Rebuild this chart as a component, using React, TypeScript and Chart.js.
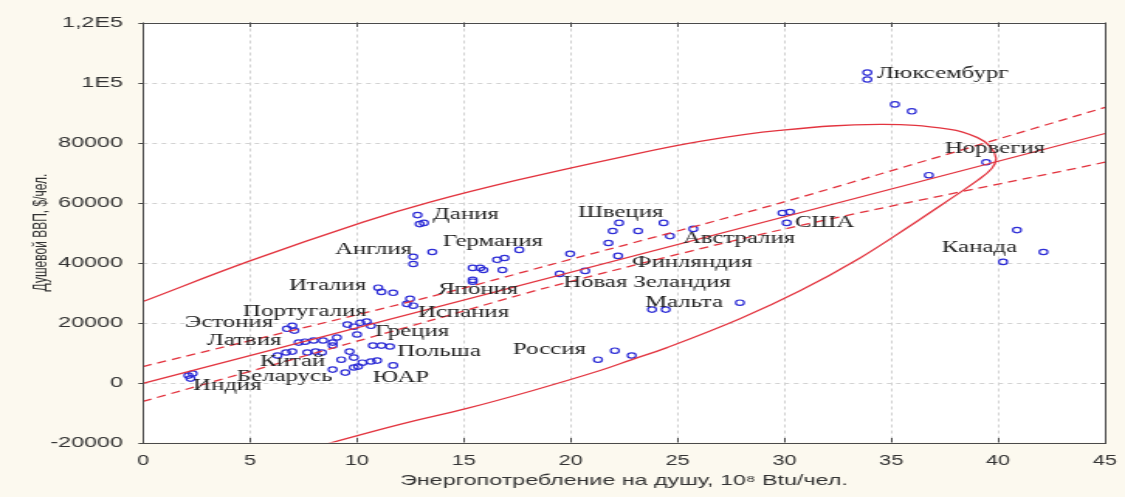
import React, { useEffect, useRef } from "react";
import { Chart, registerables } from "chart.js";

Chart.register(...registerables);

// ---- data ----
const energy = [
  2.12, 2.32, 2.22,
  6.73, 6.98, 7.08,
  7.28, 7.58, 7.98, 8.42, 8.87, 9.07,
  6.29, 6.69, 6.98, 7.68, 8.07, 8.37, 8.87,
  9.27, 9.66, 9.86, 10.06, 10.26, 10.66, 10.95, 11.7,
  8.87, 9.46, 9.86,
  9.56, 9.86, 10.16, 10.46, 10.66, 10.01,
  10.75, 11.15, 11.55,
  11.0, 11.15, 11.7,
  12.49, 12.34, 12.64,
  12.64, 12.64,
  12.84, 12.94, 13.14,
  13.53,
  15.42, 15.77, 15.92, 16.56, 16.91, 16.81, 15.42, 15.42, 17.6,
  22.27, 24.35, 21.97, 23.16, 25.74, 21.77, 24.65, 19.98, 22.22, 19.49, 20.68,
  23.81, 24.45, 27.92,
  21.28, 22.07, 22.86,
  29.91, 30.26, 30.11,
  33.88, 33.88,
  35.17, 35.96,
  39.44, 36.76,
  40.88, 40.23, 42.12,
];
const gdp = [
  2300, 3000, 1300,
  17900, 18900, 17300,
  13300, 13600, 14000, 14000, 13300, 15000,
  9000, 10000, 10300, 10000, 10300, 10000, 12300,
  7600, 10300, 8300, 5300, 6600, 7000, 7300, 5700,
  4300, 3300, 5000,
  19300, 18600, 19900, 20300, 18900, 16000,
  12300, 12300, 12000,
  31600, 30200, 29900,
  27900, 26200, 25600,
  41900, 39500,
  55800, 52800, 53200,
  43500,
  38200, 38200, 37500, 40900, 41500, 37500, 34200, 33600, 44200,
  53200, 53200, 50500, 50500, 51200, 46500, 48800, 42900, 42200, 36200, 37200,
  24300, 24300, 26600,
  7600, 10600, 9000,
  56500, 56800, 53200,
  103300, 101000,
  92700, 90400,
  73400, 69100,
  50800, 40200, 43500,
];

const countryNames = [
  "Люксембург", "Норвегия", "США", "Канада", "Швеция", "Австралия", "Финляндия",
  "Новая Зеландия", "Мальта", "Россия", "Дания", "Германия", "Англия", "Италия",
  "Япония", "Испания", "Португалия", "Эстония", "Латвия", "Греция", "Польша",
  "Китай", "Беларусь", "ЮАР", "Индия",
];
const countryLabelX = [
  34.33, 37.51, 30.49, 37.37, 20.34, 25.25, 22.87,
  19.65, 23.48, 17.31, 13.56, 14.03, 8.98, 6.82,
  13.8, 12.86, 4.68, 1.96, 2.99, 10.85, 11.88,
  5.47, 4.39, 10.75, 2.34,
];
const countryLabelY = [
  103000, 78000, 53150, 44850, 56470, 47840, 39860,
  33220, 26580, 10960, 55810, 46840, 44180, 32220,
  30890, 23250, 23590, 19930, 13950, 16940, 10300,
  6980, 1990, 1660, -1000,
];

// regression line and its confidence band
const fitX = [0, 45];
const fitY = [-300, 83000];
const bandX = [0, 13.42, 19.03, 29.79, 45];
const bandUpper = [5320, 28570, 39200, 59800, 91690];
const bandLower = [-6310, 20600, 31890, 50830, 73420];

// confidence ellipse outline
const ellipseX = [
  0, 5.0, 10.29, 13.42, 17.49, 22.31, 26.05, 29.79, 34.47, 37.75, 39.01, 39.62, 39.9,
  39.71, 39.05, 37.75, 35.87, 33.54, 30.73, 27.92, 24.51, 22.87, 21.38, 18.24,
  15.15, 12.02, 8.19,
];
const ellipseY = [
  27000, 40530, 53480, 60130, 67440, 75080, 80390, 84050, 86040, 84380, 81720, 78730, 74740,
  71420, 67440, 61120, 52160, 41530, 30560, 21260, 11630, 7640, 3990, -2660,
  -8640, -13950, -21260,
];

const xTicks = [0, 5, 10, 15, 20, 25, 30, 35, 40, 45];
const yTicks = [-20000, 0, 20000, 40000, 60000, 80000, 100000, 120000];
const yTickText = ["-20000", "0", "20000", "40000", "60000", "80000", "1E5", "1,2E5"];

const xTitle = "Энергопотребление на душу, 10⁸ Btu/чел.";
const yTitle = "Душевой ВВП, $/чел.";

// ---- rendering constants ----
const REAL_W = 1125;
const REAL_H = 497;
const LOGICAL_W = 726; // the reference is horizontally stretched; CSS stretches the canvas
const RED = "#e3343f";

const zip = (xs: number[], ys: number[]) => xs.map((x, i) => ({ x, y: ys[i] }));

const framePlugin = {
  id: "frame",
  beforeDraw(chart: any) {
    const { ctx, chartArea: a, width, height } = chart;
    ctx.save();
    ctx.fillStyle = "#fcf9ef";
    ctx.fillRect(0, 0, width, height);
    ctx.fillStyle = "#ffffff";
    ctx.fillRect(a.left, a.top, a.right - a.left, a.bottom - a.top);
    const xs = chart.scales.x;
    const ys = chart.scales.y;
    ctx.strokeStyle = "#d2d2d2";
    ctx.lineWidth = 1;
    ctx.setLineDash([3, 3]);
    xTicks.forEach((v) => {
      if (v === xTicks[0] || v === xTicks[xTicks.length - 1]) return;
      const px = Math.round(xs.getPixelForValue(v)) + 0.5;
      ctx.beginPath();
      ctx.moveTo(px, a.top);
      ctx.lineTo(px, a.bottom);
      ctx.stroke();
    });
    yTicks.forEach((v) => {
      if (v === yTicks[0] || v === yTicks[yTicks.length - 1]) return;
      const py = Math.round(ys.getPixelForValue(v)) + 0.5;
      ctx.beginPath();
      ctx.moveTo(a.left, py);
      ctx.lineTo(a.right, py);
      ctx.stroke();
    });
    ctx.restore();
  },
  afterDatasetsDraw(chart: any) {
    const { ctx, chartArea: a } = chart;
    const xs = chart.scales.x;
    const ys = chart.scales.y;
    ctx.save();
    ctx.fillStyle = "#222222";
    ctx.font = "16px 'Liberation Serif', 'Times New Roman', serif";
    ctx.textAlign = "left";
    ctx.textBaseline = "middle";
    countryNames.forEach((name, i) => {
      ctx.fillText(name, xs.getPixelForValue(countryLabelX[i]), ys.getPixelForValue(countryLabelY[i]));
    });
    ctx.strokeStyle = "#4a4a4a";
    ctx.lineWidth = 1;
    ctx.setLineDash([]);
    ctx.strokeRect(Math.round(a.left) + 0.5, Math.round(a.top) + 0.5, Math.round(a.right - a.left), Math.round(a.bottom - a.top));
    const t = 3;
    ctx.beginPath();
    xTicks.forEach((v) => {
      const px = Math.round(xs.getPixelForValue(v)) + 0.5;
      ctx.moveTo(px, a.bottom);
      ctx.lineTo(px, a.bottom - t * 1.5);
      ctx.moveTo(px, a.top);
      ctx.lineTo(px, a.top + t * 1.5);
    });
    yTicks.forEach((v) => {
      const py = Math.round(ys.getPixelForValue(v)) + 0.5;
      ctx.moveTo(a.left, py);
      ctx.lineTo(a.left - t, py);
      ctx.moveTo(a.right, py);
      ctx.lineTo(a.right - t, py);
    });
    ctx.stroke();
    ctx.restore();
  },
};

export default function App() {
  const ref = useRef<HTMLCanvasElement | null>(null);

  useEffect(() => {
    const canvas = ref.current;
    if (!canvas) return;
    Chart.defaults.font.family = "'Liberation Sans', Arial, sans-serif";
    const lineDs = (data: any[], dash: number[], tension: number) => ({
      type: "scatter" as const,
      data,
      showLine: true,
      borderColor: RED,
      backgroundColor: RED,
      borderWidth: 1.3,
      borderDash: dash,
      pointRadius: 0,
      pointHoverRadius: 0,
      tension,
      fill: false,
    });
    const chart = new Chart(canvas, {
      type: "scatter",
      data: {
        datasets: [
          lineDs(zip(ellipseX, ellipseY), [], 0.4),
          lineDs(zip(bandX, bandUpper), [6, 4], 0.3),
          lineDs(zip(bandX, bandLower), [6, 4], 0.3),
          lineDs(zip(fitX, fitY), [], 0),
          {
            type: "scatter" as const,
            data: zip(energy, gdp),
            pointStyle: "circle",
            pointRadius: 2.7,
            pointBorderWidth: 1.2,
            borderColor: "#2d2dd6",
            backgroundColor: "rgba(0,0,0,0)",
          } as any,
        ],
      },
      options: {
        responsive: false,
        devicePixelRatio: 1,
        animation: false,
        events: [],
        layout: { padding: { top: 22.5, right: 12.9, left: 0, bottom: 0 } },
        plugins: { legend: { display: false }, tooltip: { enabled: false } },
        scales: {
          x: {
            type: "linear",
            min: 0,
            max: 45,
            grid: { display: false },
            border: { display: false },
            afterBuildTicks: (s: any) => {
              s.ticks = xTicks.map((v) => ({ value: v }));
            },
            afterFit: (s: any) => {
              s.height = 54.5;
            },
            ticks: { color: "#333", font: { size: 14 }, padding: 2, maxRotation: 0 },
            title: {
              display: true,
              text: xTitle,
              color: "#333",
              font: { size: 15 },
              padding: { top: 0, bottom: 7 },
            },
          },
          y: {
            type: "linear",
            min: -20000,
            max: 120000,
            grid: { display: false },
            border: { display: false },
            afterBuildTicks: (s: any) => {
              s.ticks = yTicks.map((v) => ({ value: v }));
            },
            afterFit: (s: any) => {
              s.width = 92.3;
            },
            ticks: {
              color: "#333",
              font: { size: 15 },
              padding: 5,
              callback: (v: any) => {
                const i = yTicks.indexOf(Number(v));
                return i >= 0 ? yTickText[i] : "";
              },
            },
            title: {
              display: true,
              text: yTitle,
              color: "#333",
              font: { size: 12 },
              padding: { top: 19, bottom: 0 },
            },
          },
        },
      } as any,
      plugins: [framePlugin],
    });
    return () => chart.destroy();
  }, []);

  return (
    <div
      style={{
        position: "fixed",
        left: 0,
        top: 0,
        width: REAL_W,
        height: REAL_H,
        background: "#fcf9ef",
        overflow: "hidden",
      }}
    >
      <canvas
        ref={ref}
        width={LOGICAL_W}
        height={REAL_H}
        style={{ width: REAL_W + "px", height: REAL_H + "px", display: "block" }}
      />
    </div>
  );
}
